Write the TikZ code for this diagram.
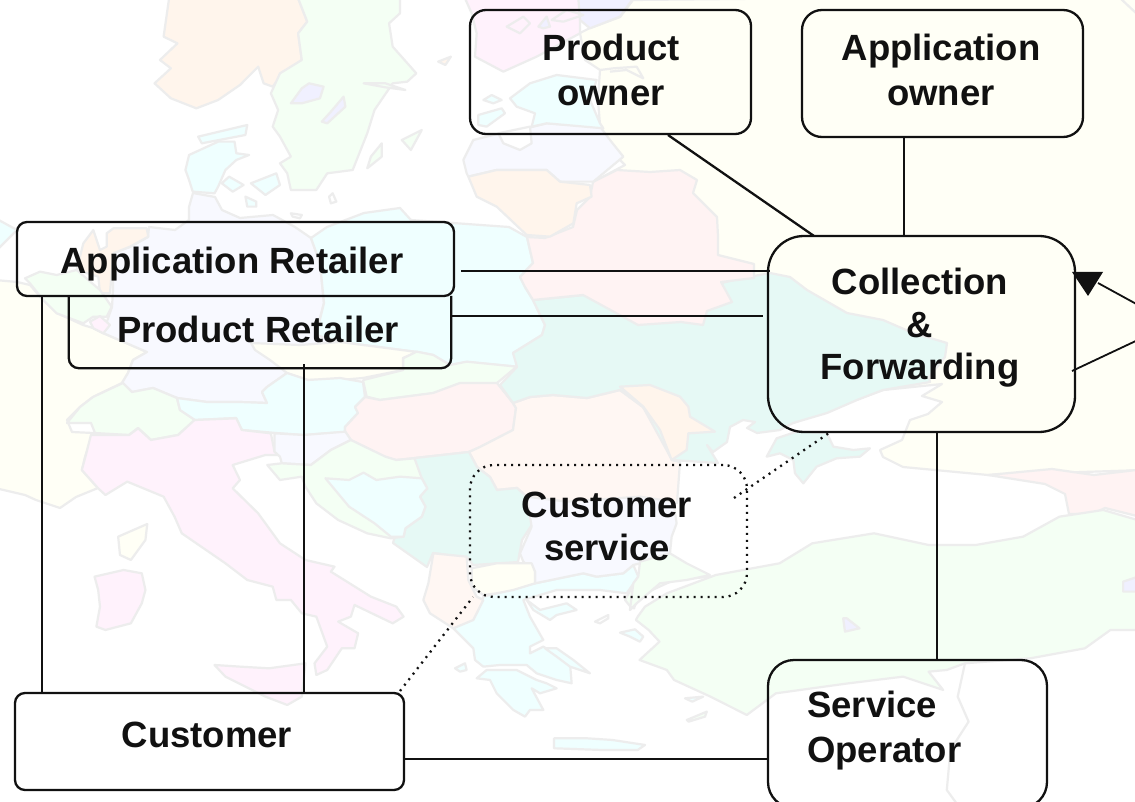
\documentclass[tikz,border=0pt]{standalone}
\usepackage{fontspec}
\setmainfont{Liberation Sans}
\definecolor{mapline}{HTML}{EDEDED}
\definecolor{PE}{HTML}{FFF5EC}
\definecolor{PF}{HTML}{FFF7F3}
\definecolor{GR}{HTML}{F4FFF4}
\definecolor{CY}{HTML}{EFFFFF}
\definecolor{LV}{HTML}{F8F9FF}
\definecolor{LK}{HTML}{F0F0FF}
\definecolor{PK}{HTML}{FFF2FC}
\definecolor{RS}{HTML}{FFF3F3}
\definecolor{TL}{HTML}{E6F9F5}
\definecolor{IV}{HTML}{FFFFF6}
\definecolor{ink}{HTML}{111111}
\newcommand\mapland[2]{\draw[coast,fill=#1] plot coordinates {#2} -- cycle;}
\tikzset{
  coast/.style={draw=mapline,line width=2.2pt,line join=round},
  zoomA/.style={xscale=.3636,yscale=.3333},
  zoomB/.style={shift={(565,0)},xscale=.3636,yscale=.3333},
  zoomC/.style={shift={(0,400)},xscale=.3636,yscale=.3333},
  zoomD/.style={shift={(565,400)},xscale=.3636,yscale=.3333},
  zoomE/.style={shift={(450,0)},scale=.3333},
  zoomF/.style={shift={(0,210)},scale=.3333},
  zoomG/.style={shift={(300,210)},scale=.3333},
  zoomH/.style={shift={(600,250)},scale=.3333},
  zoomI/.style={shift={(400,440)},scale=.3333},
  boxshape/.style={draw=ink,line width=2.3pt,rectangle,inner sep=0pt},
  ghostshape/.style={rectangle,inner sep=0pt},
  dotbox/.style={draw=ink,line width=2.3pt,rectangle,inner sep=0pt,dash pattern=on 2pt off 5pt},
  conn/.style={draw=ink,line width=2.3pt},
  dotconn/.style={draw=ink,line width=2.3pt,dash pattern=on 2pt off 5pt},
  lbl/.style={text=ink,inner sep=0pt,align=center,font=\fontsize{36.5}{42.5}\selectfont\bfseries},
  lblwide/.style={text=ink,inner sep=0pt,align=center,font=\fontsize{36.5}{45}\selectfont\bfseries},
}
\begin{document}
\begin{tikzpicture}[x=1pt,y=-1pt]
\useasboundingbox (0,0) rectangle (1135,802);
\clip (0,0) rectangle (1135,802);
\fill[white] (0,0) rectangle (1135,802);
% ---------- map ----------
\mapland{IV}{(633,0) (1145,-5) (1145,470) (988,475) (903,467) (883,457) (880,450) (902,440) (910,420) (928,414) (942,402) (922,396) (942,384) (883,390) (793,423) (760,350) (700,300) (593,182) (625,165) (610,150) (600,125) (598,100) (600,70) (585,60) (580,33) (590,28) (620,17)}
\draw[coast] (1120,-2) -- (1137,14);
\mapland{RS}{(988,475) (1052,469) (1094,475) (1145,469) (1145,518) (1105,508) (1092,514) (1069,514) (1065,494) (1045,484)}
\mapland{CY}{(-5,218) (17,230) (-5,252)}
\begin{scope}[zoomA]
\mapland{PE}{(465,-5) (450,110) (488,130) (440,180) (470,205) (425,250) (470,295) (540,325) (600,300) (660,255) (710,200) (725,250) (750,260) (775,225) (830,180) (820,100) (845,65) (820,-5)}
\mapland{GR}{(1100,-5) (1100,40) (1070,70) (1080,140) (1145,220) (1120,245) (1080,250) (1030,330) (1010,400) (970,510) (900,520) (870,570) (800,570) (790,520) (770,490) (800,470) (770,410) (750,380) (765,330) (745,280) (770,220) (830,180) (820,100) (845,65) (820,-5)}
\mapland{LK}{(800,310) (830,265) (850,250) (890,260) (880,295) (830,310)}
\mapland{LK}{(885,365) (910,335) (945,290) (950,320) (900,370)}
\mapland{GR}{(1105,420) (1160,390) (1130,450)}
\mapland{GR}{(1010,505) (1020,470) (1050,430) (1050,470)}
\mapland{PE}{(1205,185) (1240,170) (1225,195)}
\mapland{GR}{(1000,250) (1060,250) (1115,270) (1060,262)}
\mapland{white}{(905,590) (915,580) (925,605) (910,610)}
\mapland{white}{(800,640) (830,645) (825,655) (805,650)}
\mapland{CY}{(545,410) (680,375) (675,405) (555,430)}
\mapland{CY}{(520,465) (560,445) (600,425) (645,425) (650,460) (685,465) (650,480) (620,510) (600,560) (590,580) (530,575) (520,540) (510,510)}
\mapland{CY}{(610,550) (630,530) (670,555) (640,575)}
\mapland{CY}{(690,550) (760,520) (770,555) (730,585)}
\mapland{CY}{(675,590) (705,605) (705,620) (680,620)}
\end{scope}
\mapland{IV}{(-5,280) (17,282) (30,285) (43,300) (57,313) (83,325) (93,328) (103,333) (147,352) (133,360) (128,373) (122,383) (93,397) (80,407) (67,420) (72,432) (93,433) (85,457) (82,470) (98,488) (76,497) (60,508) (36,500) (25,495) (-5,488)}
\mapland{LV}{(193,193) (215,197) (222,210) (240,218) (273,215) (295,227) (311,238) (320,263) (324,303) (316,333) (340,342) (340,380) (287,373) (267,387) (262,392) (267,403) (240,402) (207,402) (177,398) (153,388) (132,392) (122,383) (128,373) (133,360) (147,352) (103,333) (112,307) (113,290) (113,253) (130,247) (148,237) (149,227) (175,230) (189,220) (189,207)}
\mapland{CY}{(311,238) (327,227) (364,213) (400,208) (411,220) (509,227) (527,237) (533,263) (520,277) (525,287) (533,300) (545,325) (542,335) (513,353) (520,367) (467,362) (450,365) (433,355) (417,352) (340,342) (316,335) (324,303) (320,263)}
\mapland{IV}{(251,343) (300,345) (340,342) (417,352) (403,358) (403,370) (363,378) (340,380) (308,380) (287,373) (270,360) (255,350)}
\begin{scope}[zoomF]
\mapland{PE}{(320,70) (340,55) (440,55) (445,80) (390,110) (340,130) (330,250) (300,250) (295,200) (230,180) (250,100) (280,60) (300,120) (320,110)}
\mapland{GR}{(75,205) (120,185) (170,195) (230,180) (300,240) (335,290) (320,320) (280,320) (250,340) (170,310) (130,270) (90,220)}
\mapland{PK}{(270,335) (300,318) (330,345) (310,370) (280,355)}
\end{scope}
\mapland{GR}{(123,383) (132,392) (153,388) (177,398) (180,410) (195,420) (178,435) (151,440) (138,428) (129,435) (95,433) (91,423) (67,423) (80,407) (93,397)}
\mapland{CY}{(177,398) (207,402) (240,402) (267,403) (262,392) (267,387) (287,373) (308,380) (340,378) (363,382) (365,397) (355,407) (358,413) (345,427) (345,432) (304,435) (276,433) (242,430) (236,418) (195,420) (180,410)}
\begin{scope}[zoomG]
\mapland{GR}{(190,515) (200,560) (240,570) (400,550) (480,520) (590,520) (650,470) (500,455) (450,465) (400,435) (350,425) (310,445) (310,480) (190,510)}
\end{scope}
\mapland{RS}{(345,432) (345,427) (358,413) (355,407) (365,397) (380,400) (433,393) (460,383) (497,383) (513,403) (516,408) (513,430) (480,447) (469,452) (415,458) (396,460) (385,457) (351,440)}
\mapland{PF}{(513,403) (530,397) (553,395) (587,398) (620,390) (643,407) (660,430) (672,460) (680,462) (677,503) (640,497) (600,500) (567,502) (527,497) (517,488) (497,490) (490,477) (477,467) (469,452) (480,447) (513,430) (516,408)}
\mapland{TL}{(500,385) (517,367) (513,353) (542,335) (545,325) (533,300) (583,295) (630,298) (650,300) (700,300) (707,287) (733,280) (770,273) (790,277) (807,290) (847,313) (883,320) (913,333) (947,343) (945,357) (929,377) (930,382) (883,390) (857,400) (827,413) (793,423) (780,430) (757,433) (747,428) (755,422) (743,420) (730,427) (727,442) (713,452) (707,445) (718,463) (672,460) (643,407) (620,390) (587,398) (553,395) (530,397) (513,403)}
\begin{scope}[zoomH]
\mapland{PE}{(60,410) (150,405) (240,440) (265,470) (270,500) (345,545) (265,550) (260,600) (215,630) (180,540) (130,470)}
\mapland{TL}{(500,620) (530,565) (590,545) (680,548) (700,590) (760,600) (810,595) (780,620) (710,625) (650,650) (610,700) (585,670) (580,630) (540,610)}
\end{scope}
\mapland{RS}{(593,182) (617,170) (650,172) (680,170) (697,180) (693,193) (717,217) (718,236) (718,255) (754,264) (754,278) (721,282) (732,302) (707,311) (703,325) (681,322) (638,325) (583,295) (533,300) (525,287) (520,277) (533,263) (527,237) (545,238) (573,227) (577,210) (590,197)}
\begin{scope}[zoomE]
\mapland{PK}{(45,-5) (65,40) (80,100) (75,170) (160,215) (260,170) (390,100) (390,-5)}
\mapland{LK}{(385,-5) (390,60) (420,85) (510,50) (550,-5)}
\mapland{PK}{(170,80) (220,50) (240,70) (210,100)}
\mapland{LK}{(265,80) (290,50) (300,80) (280,85)}
\draw[coast] (305,60) -- (350,30) -- (400,45) -- (340,65) -- cycle;
\draw[coast] (450,210) -- (490,205) -- (560,200) -- (580,235) -- (530,210) -- (480,215);
\mapland{LV}{(50,520) (40,480) (70,420) (150,400) (250,380) (290,370) (450,380) (480,420) (520,470) (430,545) (330,545) (290,510) (140,510) (55,530)}
\mapland{white}{(145,400) (160,430) (210,450) (245,430) (240,380)}
\mapland{CY}{(180,295) (240,250) (320,225) (440,240) (420,300) (450,370) (460,385) (290,370) (245,380) (255,340) (200,320)}
\mapland{CY}{(85,345) (155,325) (165,340) (110,380) (85,375)}
\mapland{CY}{(100,300) (125,285) (155,300) (130,310)}
\mapland{PE}{(55,530) (140,510) (290,510) (330,545) (420,555) (425,590) (380,610) (370,670) (300,710) (230,705) (140,620) (80,590)}
\end{scope}
\mapland{TL}{(415,458) (469,452) (477,467) (490,477) (497,490) (517,488) (527,497) (533,523) (522,540) (518,562) (473,565) (468,558) (433,553) (427,567) (393,543) (405,500)}
\begin{scope}[zoomC]
\mapland{PK}{(250,105) (355,105) (380,85) (415,120) (490,105) (535,60) (650,55) (665,90) (745,100) (755,155) (770,165) (730,165) (640,195) (660,240) (640,265) (710,340) (770,430) (840,480) (920,500) (910,515) (1020,590) (1090,620) (1110,650) (1080,670) (975,615) (965,650) (930,665) (985,700) (975,745) (940,745) (900,810) (870,825) (865,790) (900,740) (870,650) (830,640) (800,600) (760,600) (750,560) (680,540) (620,490) (500,400) (480,350) (450,290) (350,245) (290,285) (270,265) (225,210) (235,170)}
\mapland{PK}{(590,795) (660,800) (740,805) (840,790) (830,890) (790,915) (730,890) (620,830)}
\mapland{PK}{(260,530) (340,510) (390,520) (400,570) (390,610) (360,670) (290,690) (265,680) (275,620) (270,570)}
\mapland{IV}{(325,410) (405,372) (400,420) (360,480) (330,465)}
\mapland{LV}{(755,100) (835,105) (950,95) (965,120) (910,150) (855,195) (775,190) (770,170) (755,155)}
\mapland{GR}{(965,120) (1060,170) (1090,180) (1140,175) (1160,235) (1175,265) (1155,290) (1170,320) (1160,350) (1115,385) (1110,410) (1075,415) (1010,400) (930,360) (870,310) (840,260) (830,230) (770,240) (735,195) (775,190) (855,195) (910,150)}
\mapland{CY}{(895,235) (960,240) (1000,218) (1035,240) (1100,230) (1160,235) (1175,265) (1155,290) (1170,320) (1160,350) (1115,385) (1110,410) (1075,410) (1030,370) (960,320)}
\end{scope}
\begin{scope}[zoomD]
\mapland{GR}{(200,650) (220,620) (280,580) (415,525) (590,490) (680,430) (850,400) (1000,435) (1130,435) (1260,410) (1360,350) (1480,330) (1590,365) (1590,690) (1500,690) (1430,745) (1280,775) (1100,790) (1050,810) (1000,815) (1040,870) (930,830) (780,850) (580,880) (500,945) (400,890) (300,840) (280,810) (205,780) (260,725) (230,690) (195,660)}
\mapland{GR}{(165,600) (210,510) (330,500) (400,530) (300,540) (200,590) (190,625) (180,620)}
\mapland{LK}{(765,655) (775,655) (810,685) (770,695)}
\mapland{LK}{(1535,545) (1590,525) (1590,575) (1535,575)}
\mapland{GR}{(335,960) (390,935) (385,950) (340,965)}
\mapland{CY}{(330,895) (380,890) (350,905)}
\mapland{CY}{(-30,1015) (60,1015) (130,1020) (220,1035) (200,1050) (100,1050) (-30,1045)}
\draw[coast] (1100,790) -- (1080,890) -- (1110,965) -- (1060,1050) -- (1050,1170) -- (1080,1215);
\end{scope}
\begin{scope}[zoomI]
\mapland{CY}{(160,565) (230,520) (250,470) (405,430) (550,400) (590,410) (670,400) (700,375) (715,410) (680,460) (600,450) (530,450) (470,450) (370,480) (390,530) (430,600) (390,620) (390,640) (430,620) (510,670) (515,730) (470,720) (410,700) (380,675) (300,675) (250,680) (225,660) (220,625)}
\mapland{CY}{(380,480) (420,510) (500,490) (530,510) (470,525) (450,540) (400,510)}
\mapland{CY}{(230,715) (260,690) (350,690) (410,720) (440,730) (470,745) (420,760) (395,745) (430,810) (390,810) (375,830) (340,810) (290,760) (270,720)}
\mapland{CY}{(435,625) (470,625) (520,660) (570,700) (510,680) (470,650)}
\mapland{CY}{(165,685) (195,670) (200,690) (180,695)}
\mapland{white}{(585,545) (625,525) (625,535) (600,550)}
\mapland{CY}{(660,578) (705,568) (730,590) (720,605) (690,590)}
\mapland{LV}{(380,170) (500,185) (720,170) (820,185) (830,250) (815,290) (810,340) (720,370) (700,375) (670,400) (590,410) (550,400) (405,430) (405,395) (370,365) (360,340) (395,260)}
\mapland{IV}{(215,385) (290,370) (395,370) (405,395) (405,430) (340,450) (290,460) (250,465) (215,440)}
\mapland{PF}{(100,340) (200,350) (205,420) (230,470) (250,480) (220,540) (160,565) (90,520) (70,480) (85,430)}
\mapland{GR}{(700,430) (715,410) (720,365) (810,340) (860,370) (930,405) (860,420) (780,430) (710,490) (690,510)}
\end{scope}
% ---------- boxes ----------
\node[boxshape,rounded corners=16pt,minimum width=281pt,minimum height=124pt] (po) at (610.5,72) {};
\node[boxshape,rounded corners=20pt,minimum width=281pt,minimum height=127pt] (ao) at (942.5,73.5) {};
\node[ghostshape,minimum width=382pt,minimum height=72pt] (pr) at (260,332) {};
\draw[ink,line width=2.3pt,rounded corners=10pt] (pr.north west) |- (pr.south east) -- (pr.north east);
\node[boxshape,rounded corners=10pt,minimum width=437pt,minimum height=74pt] (ar) at (235.5,259) {};
\node[boxshape,rounded corners=36pt,minimum width=307pt,minimum height=196pt] (cf) at (921.5,334) {};
\node[dotbox,rounded corners=24pt,minimum width=277pt,minimum height=132pt] (cs) at (608.5,531) {};
\node[boxshape,rounded corners=10pt,minimum width=389pt,minimum height=97pt] (cu) at (209.5,741.5) {};
\node[boxshape,rounded corners=26pt,minimum width=279pt,minimum height=148pt] (so) at (907.5,734) {};
% ---------- labels ----------
\node[lblwide] (pot) at (611,70) {Product\\owner};
\node[lblwide] (aot) at (941,70) {Application\\owner};
\node[lbl] (art) at (232,264) {Application Retailer};
\node[lbl] (prt) at (258,329) {Product Retailer};
\node[lbl] (cft) at (920,328) {Collection\\\&\\Forwarding};
\node[lbl] (cst) at (607,526.5) {Customer\\service};
\node[lbl] (cut) at (207,735) {Customer};
\node[lblwide,align=left,anchor=west] (sot) at (807,731) {Service\\Operator};
% ---------- free ends ----------
\coordinate (arE) at (461,271);
\coordinate (prE) at (451,316);
\coordinate (cfW) at (763,316);
\coordinate (cfW2) at (770,271);
\coordinate (poS) at (668,135);
\coordinate (cfN1) at (814,236);
\coordinate (aoS) at (904,137);
\coordinate (cfN2) at (904,236);
\coordinate (cfS) at (937,432);
\coordinate (soN) at (937,660);
\coordinate (cuE) at (404,759);
\coordinate (soW) at (768,759);
\coordinate (arS) at (42,296);
\coordinate (cuN1) at (42,693);
\coordinate (prS) at (304,364);
\coordinate (cuN2) at (304,693);
\coordinate (csIn) at (734,498);
\coordinate (cfS2) at (829,433);
\coordinate (cuNE) at (400,691);
\coordinate (csSW) at (473,597);
\coordinate (cfE1) at (1072,371);
\coordinate (loopA) at (1140,339);
\coordinate (loopB) at (1140,306);
\coordinate (tipIn) at (1098,283);
\coordinate (triA) at (1072,272);
\coordinate (triB) at (1103,272);
\coordinate (triC) at (1088,296);
% ---------- connectors ----------
\draw[conn] (arE) -- (cfW2);
\draw[conn] (prE) -- (cfW);
\draw[conn] (poS) -- (cfN1);
\draw[conn] (aoS) -- (cfN2);
\draw[conn] (cfS) -- (soN);
\draw[conn] (cuE) -- (soW);
\draw[conn] (arS) -- (cuN1);
\draw[conn] (prS) -- (cuN2);
\draw[dotconn] (csIn) -- (cfS2);
\draw[dotconn] (cuNE) -- (csSW);
\draw[conn,line width=1.8pt] (cfE1) -- (loopA);
\draw[conn,line width=1.8pt] (tipIn) -- (loopB);
\fill[ink] (triA) -- (triB) -- (triC) -- cycle;
\end{tikzpicture}
\end{document}
